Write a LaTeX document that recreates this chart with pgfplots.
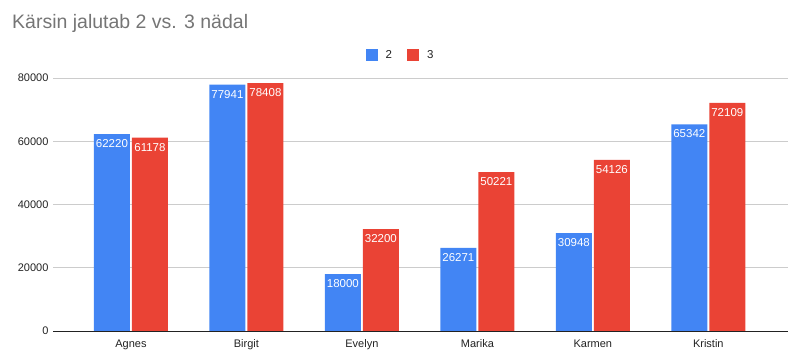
\documentclass[border=0pt]{standalone}
\usepackage{pgfplots}
\pgfplotsset{compat=1.18}
\usepackage{fontspec}
\setmainfont{Liberation Sans}
\definecolor{gblue}{HTML}{4285F4}
\definecolor{gred}{HTML}{EA4335}
\definecolor{ggrid}{HTML}{CCCCCC}
\definecolor{gtitle}{HTML}{757575}
\definecolor{gtext}{HTML}{222222}
\begin{document}
\begin{tikzpicture}
\useasboundingbox (0,0) rectangle (801pt,359pt);
\node[anchor=west, text=gtitle, font=\fontsize{19.5}{22}\selectfont, inner sep=0pt] at (12pt,336pt) {Kärsin jalutab 2 vs. 3 nädal};
\begin{axis}[
  at={(53pt,28pt)}, anchor=south west,
  scale only axis, width=735pt, height=253pt,
  ybar=2pt, bar width=36pt,
  xmin=-0.675, xmax=5.69,
  ymin=0, ymax=80000,
  xtick={0,1,2,3,4,5},
  xticklabels={Agnes,Birgit,Evelyn,Marika,Karmen,Kristin},
  ytick={0,20000,40000,60000,80000},
  scaled y ticks=false,
  /pgf/number format/assume math mode=true,
  yticklabel={\pgfmathprintnumber[fixed,1000 sep={}]{\tick}},
  tick style={draw=none},
  ymajorgrids, grid style={ggrid, line width=0.8pt},
  axis x line*=bottom, axis y line*=left,
  y axis line style={draw=none},
  x axis line style={gtext, line width=0.9pt, -},
  tick label style={font=\fontsize{11}{13}\selectfont, text=gtext},
  yticklabel style={xshift=-1pt},
  xticklabel style={yshift=-1pt},
  nodes near coords,
  every node near coord/.append style={anchor=north, text=white, font=\fontsize{11.5}{13}\selectfont, yshift=-2pt, /pgf/number format/fixed, /pgf/number format/1000 sep={}},
  legend columns=2,
  legend style={draw=none, at={(0.5,1)}, anchor=center, yshift=23pt, xshift=-20pt, font=\fontsize{11.5}{13}\selectfont, text=gtext, inner sep=0pt,
    /tikz/every odd column/.append style={column sep=6pt},
    /tikz/every even column/.append style={column sep=13pt}},
  legend image code/.code={\fill[#1] (0pt,-6pt) rectangle (12pt,6pt);},
]
\addplot[fill=gblue, draw=none] coordinates {(0,62220) (1,77941) (2,18000) (3,26271) (4,30948) (5,65342)};
\addplot[fill=gred, draw=none] coordinates {(0,61178) (1,78408) (2,32200) (3,50221) (4,54126) (5,72109)};
\legend{2,3}
\end{axis}
\end{tikzpicture}
\end{document}
